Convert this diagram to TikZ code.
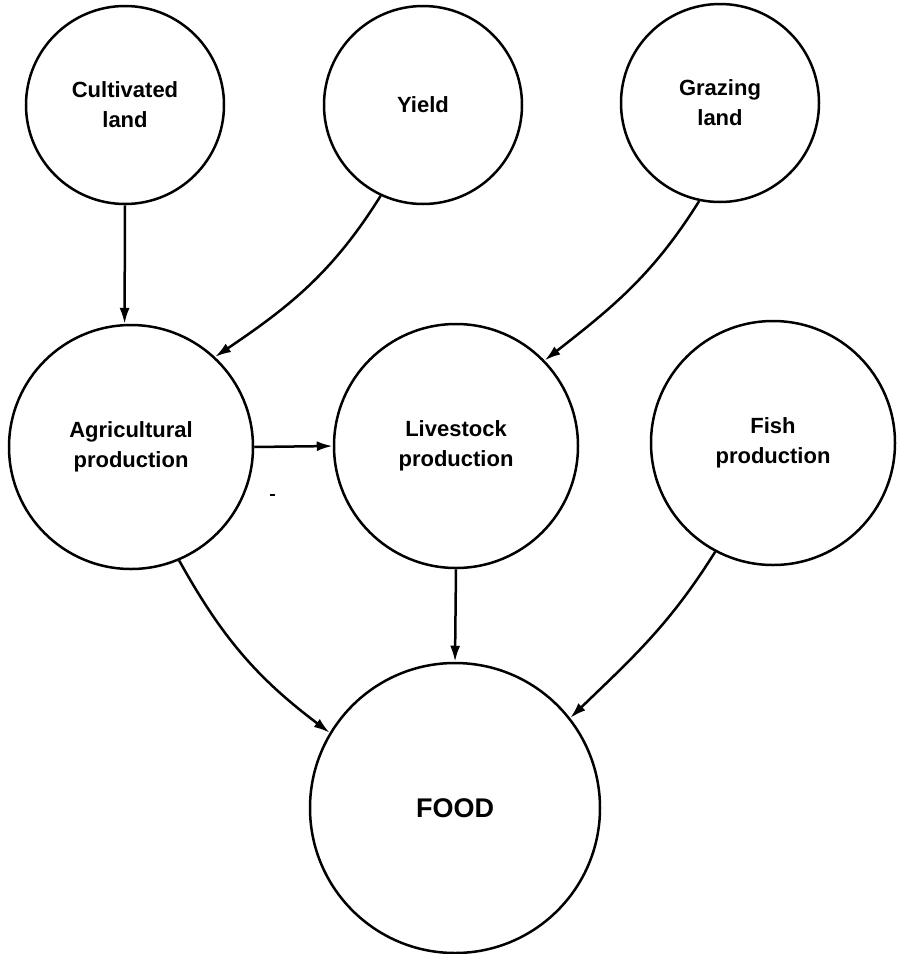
\documentclass[tikz,border=0pt]{standalone}
\usepackage{fontspec}
\setmainfont{Liberation Sans}
\usetikzlibrary{arrows.meta}
\begin{document}
\begin{tikzpicture}[x=1pt,y=-1pt,
  bubble/.style={circle,draw=black,line width=2.5pt,inner sep=0pt,align=center,
    font=\fontsize{22}{30}\selectfont\bfseries},
  bigbubble/.style={bubble,font=\fontsize{27}{30}\selectfont\bfseries},
  link/.style={draw=black,line width=2.5pt,-{Latex[length=16pt,width=10pt]}}]
\useasboundingbox (0,0) rectangle (898,954);
\node[bubble,minimum size=198pt] (cult) at (125,105) {Cultivated\\land};
\node[bubble,minimum size=198pt] (yield) at (423,105) {Yield};
\node[bubble,minimum size=198pt] (graze) at (720,103) {Grazing\\land};
\node[bubble,minimum size=244pt] (agri) at (131,447) {Agricultural\\production};
\node[bubble,minimum size=244pt] (live) at (456,446) {Livestock\\production};
\node[bubble,minimum size=244pt] (fish) at (773,443) {Fish\\production};
\node[bigbubble,minimum size=290pt] (food) at (455,808) {FOOD};
\draw[link] (cult.-90) -- (agri.93);
\draw[link] (yield.245) to[out=238,in=34] (agri.47);
\draw[link] (graze.258) to[out=238,in=38] (live.44);
\draw[link] (agri.east) -- (live.west);
\draw[link] (agri.-67) to[out=-61,in=143] (food.149);
\draw[link] (live.south) -- (food.north);
\draw[link] (fish.242) to[out=238,in=44] (food.38);
\coordinate (speckA) at (270,495);
\coordinate (speckB) at (275,495);
\draw[line width=1.5pt] (speckA) -- (speckB);
\end{tikzpicture}
\end{document}
